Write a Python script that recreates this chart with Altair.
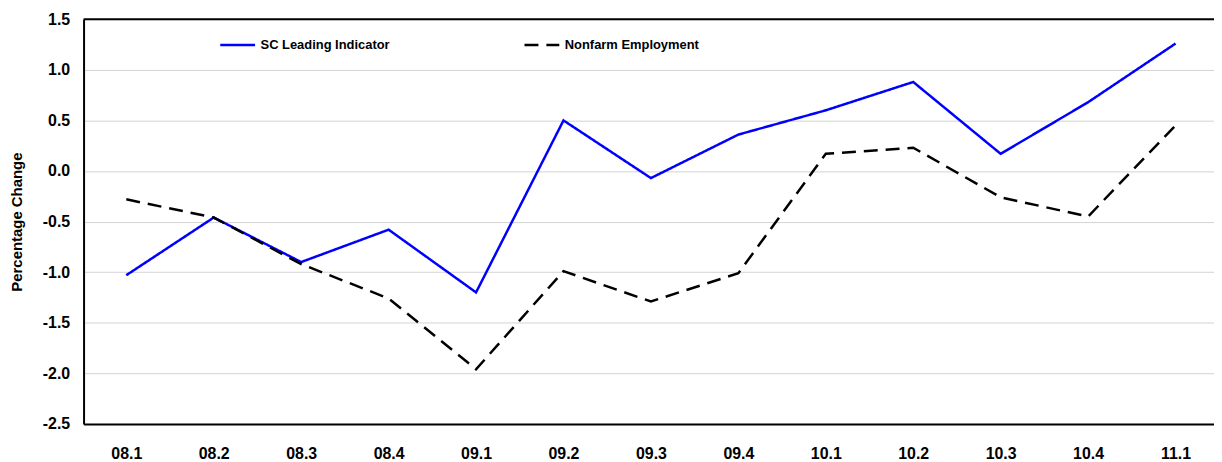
import altair as alt
import pandas as pd

categories = ["08.1", "08.2", "08.3", "08.4", "09.1", "09.2", "09.3",
              "09.4", "10.1", "10.2", "10.3", "10.4", "11.1"]
sc_leading = [-1.03, -0.46, -0.90, -0.58, -1.20, 0.50, -0.07,
              0.36, 0.60, 0.88, 0.17, 0.68, 1.26]
nonfarm = [-0.28, -0.46, -0.92, -1.26, -1.96, -0.99, -1.29,
           -1.01, 0.17, 0.23, -0.26, -0.45, 0.45]
series_names = ["SC Leading Indicator", "Nonfarm Employment"]
y_ticks = [-2.5, -2.0, -1.5, -1.0, -0.5, 0.0, 0.5, 1.0, 1.5]

rows = []
for name, vals in zip(series_names, [sc_leading, nonfarm]):
    for i, (c, v) in enumerate(zip(categories, vals)):
        rows.append({"idx": i, "quarter": c, "value": v, "series": name})
df = pd.DataFrame(rows)

FONT = "Liberation Sans"
W, H = 1137, 407

label_array = "[" + ",".join("'" + c + "'" for c in categories) + "]"

legend_kw = dict(title=None, orient="none", legendX=136, legendY=7,
                 direction="horizontal", symbolType="stroke",
                 symbolSize=1225, symbolStrokeWidth=2.5,
                 labelFont=FONT, labelFontSize=13,
                 labelFontWeight="bold", labelColor="black",
                 labelOffset=4, columnPadding=129, padding=0)

lines = alt.Chart(df).mark_line(strokeWidth=2.5).encode(
    x=alt.X("idx:Q",
            scale=alt.Scale(domain=[-0.489, 12.44], nice=False, zero=False),
            axis=alt.Axis(values=list(range(len(categories))),
                          labelExpr=label_array + "[datum.value]",
                          title=None, grid=False, ticks=False, tickSize=0,
                          labelFont=FONT, labelFontSize=16, labelFontWeight="bold",
                          labelColor="black", labelPadding=22,
                          domainColor="black", domainWidth=2,
                          labelFlush=False, labelOverlap=False)),
    y=alt.Y("value:Q",
            scale=alt.Scale(domain=[-2.5, 1.5], nice=False, zero=False),
            axis=alt.Axis(values=y_ticks,
                          labelExpr="replace(format(datum.value, '.1f'), '\u2212', '-')",
                          title="Percentage Change",
                          titleFont=FONT, titleFontSize=15, titleFontWeight="bold",
                          titleColor="black", titleX=-59, titleY=H / 2,
                          grid=True, gridColor="#d3d3d3", gridWidth=1,
                          ticks=False, tickSize=0,
                          labelFont=FONT, labelFontSize=16, labelFontWeight="bold",
                          labelColor="black", labelPadding=14,
                          domainColor="black", domainWidth=2,
                          labelFlush=False, labelOverlap=False)),
    color=alt.Color("series:N",
                    scale=alt.Scale(domain=series_names, range=["#0000ff", "#000000"]),
                    legend=alt.Legend(**legend_kw)),
    strokeDash=alt.StrokeDash("series:N",
                              scale=alt.Scale(domain=series_names, range=[[1, 0], [14, 8]]),
                              legend=alt.Legend(**legend_kw)),
    strokeWidth=alt.condition(alt.datum.series == series_names[0], alt.value(2), alt.value(2.5)),
    order=alt.Order("idx:Q"),
)

top_border = alt.Chart(pd.DataFrame({"a": [0]})).mark_rule(color="black", strokeWidth=2).encode(
    x=alt.value(0), x2=alt.value(W), y=alt.value(0)
)

chart = alt.layer(lines, top_border).properties(
    width=W, height=H,
    padding={"left": 76, "top": 10, "right": 0, "bottom": 40},
    autosize=alt.AutoSizeParams(type="none"),
    background="white",
).configure_view(stroke=None)

chart.save("out.html", embed_options={"renderer": "svg", "actions": False})
